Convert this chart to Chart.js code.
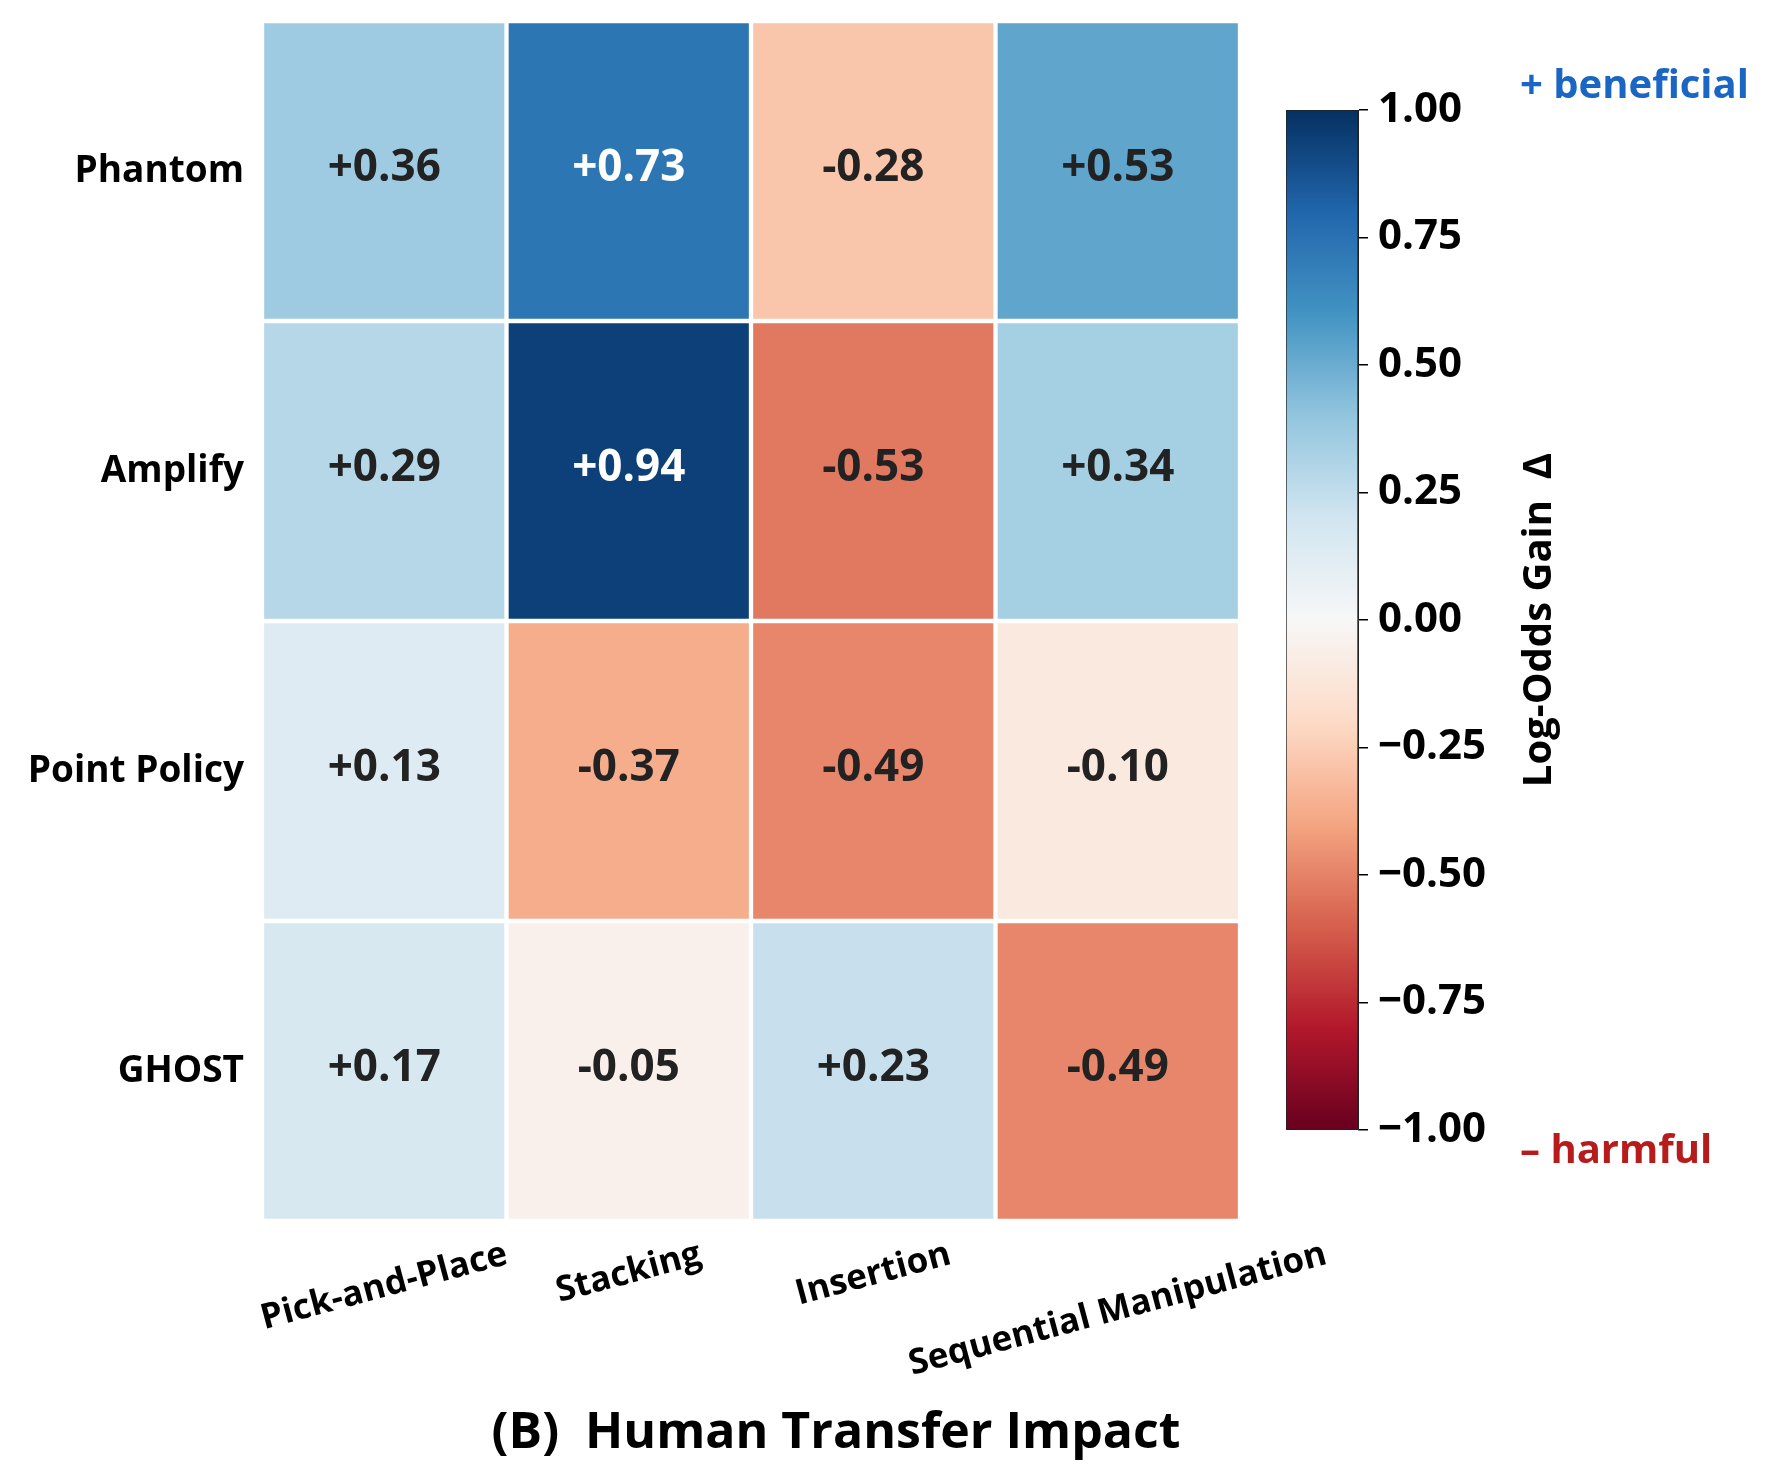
<!DOCTYPE html>
<html>
<head>
<meta charset="utf-8">
<script src="https://cdn.jsdelivr.net/npm/chart.js@4.4.0/dist/chart.umd.min.js"></script>
<style>
  body { margin: 0; background: #fff; }
  #wrap { position: relative; width: 1776px; height: 1480px; }
  #heat { position: absolute; left: 0; top: 0; }
  #cbar { position: absolute; left: 1286px; top: 0; }
</style>
</head>
<body>
<div id="wrap">
  <canvas id="heat" width="1776" height="1480"></canvas>
  <canvas id="cbar" width="490" height="1480"></canvas>
</div>
<script>
let methods = ["Phantom", "Amplify", "Point Policy", "GHOST"];
let tasks = ["Pick-and-Place", "Stacking", "Insertion", "Sequential Manipulation"];
let phantomVals = [0.36, 0.73, -0.28, 0.53];
let amplifyVals = [0.29, 0.94, -0.53, 0.34];
let pointPolicyVals = [0.13, -0.37, -0.49, -0.10];
let ghostVals = [0.17, -0.05, 0.23, -0.49];
let cbarTicks = [-1, -0.75, -0.5, -0.25, 0, 0.25, 0.5, 0.75, 1];

// RdBu colormap stops (low = red, high = blue)
let rdbuStops = ["#67001f", "#b2182b", "#d6604d", "#f4a582", "#fddbc7", "#f7f7f7",
                 "#d1e5f0", "#92c5de", "#4393c3", "#2166ac", "#053061"];

let FONT = "'Open Sans', 'DejaVu Sans', sans-serif";

function hexToRgb(h) {
  return [parseInt(h.slice(1, 3), 16), parseInt(h.slice(3, 5), 16), parseInt(h.slice(5, 7), 16)];
}

function rdbu(v) {
  let t = Math.max(0, Math.min(1, (v + 1) / 2)) * (rdbuStops.length - 1);
  let i = Math.min(Math.floor(t), rdbuStops.length - 2);
  let f = t - i;
  let a = hexToRgb(rdbuStops[i]), b = hexToRgb(rdbuStops[i + 1]);
  let c = a.map((x, k) => Math.round(x + (b[k] - x) * f));
  return "rgb(" + c.join(",") + ")";
}

let rows = [phantomVals, amplifyVals, pointPolicyVals, ghostVals];

// stacked bars build from the bottom, so GHOST goes first
let datasets = methods.map((m, i) => ({
  label: m,
  vals: rows[i],
  data: tasks.map(() => 1),
  backgroundColor: rows[i].map(v => rdbu(v)),
  borderColor: "#ffffff",
  borderWidth: 2.5,
  borderSkipped: false,
  categoryPercentage: 1,
  barPercentage: 1
})).reverse();

let heatText = {
  id: "heatText",
  afterDatasetsDraw(chart) {
    let ctx = chart.ctx;
    ctx.save();
    ctx.font = "bold 44px " + FONT;
    ctx.textAlign = "center";
    ctx.textBaseline = "middle";
    chart.data.datasets.forEach((ds, di) => {
      chart.getDatasetMeta(di).data.forEach((el, j) => {
        let v = ds.vals[j];
        ctx.fillStyle = Math.abs(v) > 0.6 ? "#ffffff" : "#222222";
        let txt = (v >= 0 ? "+" : "-") + Math.abs(v).toFixed(2);
        ctx.fillText(txt, el.x, (el.y + el.base) / 2 - 3);
      });
    });
    ctx.restore();
  },
  afterDraw(chart) {
    let ctx = chart.ctx;
    let xs = chart.scales.x;
    let rot = 15 * Math.PI / 180;
    let fs = 35;
    ctx.save();
    ctx.fillStyle = "#000";
    ctx.font = "bold " + fs + "px " + FONT;
    ctx.textAlign = "center";
    ctx.textBaseline = "middle";
    tasks.forEach((t, i) => {
      let x = xs.getPixelForTick(i);
      let w = ctx.measureText(t).width;
      let h = w * Math.sin(rot) + fs * Math.cos(rot);
      let cy = chart.chartArea.bottom + 16 + h / 2;
      ctx.save();
      ctx.translate(x, cy);
      ctx.rotate(-rot);
      ctx.fillText(t, 0, 0);
      ctx.restore();
    });
    ctx.font = "bold 50px " + FONT;
    ctx.fillText("(B)  Human Transfer Impact", 836, 1434);
    ctx.restore();
  }
};

new Chart(document.getElementById("heat"), {
  type: "bar",
  data: { labels: tasks, datasets: datasets },
  options: {
    responsive: false,
    animation: false,
    devicePixelRatio: 1,
    layout: { padding: { top: 21, right: 536, bottom: 259, left: 0 } },
    plugins: { legend: { display: false }, tooltip: { enabled: false } },
    scales: {
      x: { stacked: true, display: false },
      y: {
        stacked: true,
        min: 0,
        max: 4,
        grid: { display: false },
        border: { display: false },
        afterBuildTicks: axis => { axis.ticks = [3.5, 2.5, 1.5, 0.5].map(v => ({ value: v })); },
        afterFit: axis => {
          axis.width = 262;
          axis.paddingTop = 0;
          axis.paddingBottom = 0;
        },
        ticks: {
          padding: 10,
          color: "#000",
          font: { family: FONT, size: 37, weight: "bold" },
          callback: v => methods[3 - Math.floor(v)]
        }
      }
    }
  },
  plugins: [heatText]
});

// colour bar
let cbarText = {
  id: "cbarText",
  afterDraw(chart) {
    let ctx = chart.ctx;
    let ca = chart.chartArea;
    ctx.save();
    ctx.textBaseline = "middle";
    ctx.textAlign = "left";
    ctx.font = "bold 40px " + FONT;
    ctx.fillStyle = "#1a66c2";
    ctx.fillText("+ beneficial", ca.right + 162, ca.top - 23);
    ctx.fillStyle = "#b71c1c";
    ctx.fillText("\u2013 harmful", ca.right + 162, ca.bottom + 22);
    ctx.fillStyle = "#000";
    ctx.textAlign = "center";
    ctx.font = "bold 40px " + FONT;
    ctx.translate(ca.right + 182, (ca.top + ca.bottom) / 2);
    ctx.rotate(-Math.PI / 2);
    ctx.fillText("Log-Odds Gain  \u0394", 0, 0);
    ctx.restore();
  }
};

new Chart(document.getElementById("cbar"), {
  type: "bar",
  data: {
    labels: [""],
    datasets: [{
      data: [[cbarTicks[0], cbarTicks[cbarTicks.length - 1]]],
      backgroundColor: c => {
        let ca = c.chart.chartArea;
        if (!ca) return rdbuStops[5];
        let g = c.chart.ctx.createLinearGradient(0, ca.bottom, 0, ca.top);
        rdbuStops.forEach((s, i) => g.addColorStop(i / (rdbuStops.length - 1), s));
        return g;
      },
      borderColor: "#222",
      borderWidth: 1,
      borderSkipped: false,
      categoryPercentage: 1,
      barPercentage: 1
    }]
  },
  options: {
    responsive: false,
    animation: false,
    devicePixelRatio: 1,
    layout: { padding: { top: 110, bottom: 350, left: 0, right: 0 } },
    plugins: { legend: { display: false }, tooltip: { enabled: false } },
    scales: {
      x: { display: false },
      y: {
        position: "right",
        min: -1,
        max: 1,
        afterBuildTicks: axis => { axis.ticks = cbarTicks.map(v => ({ value: v })); },
        afterFit: axis => { axis.width = 418; },
        grid: { drawOnChartArea: false, drawTicks: true, tickLength: 10, color: "#000", lineWidth: 1.5 },
        border: { display: true, color: "#222", width: 1 },
        ticks: {
          padding: 10,
          color: "#000",
          font: { family: FONT, size: 42, weight: "bold" },
          callback: v => (v < 0 ? "\u2212" : "") + Math.abs(v).toFixed(2)
        }
      }
    }
  },
  plugins: [cbarText]
});
</script>
</body>
</html>
